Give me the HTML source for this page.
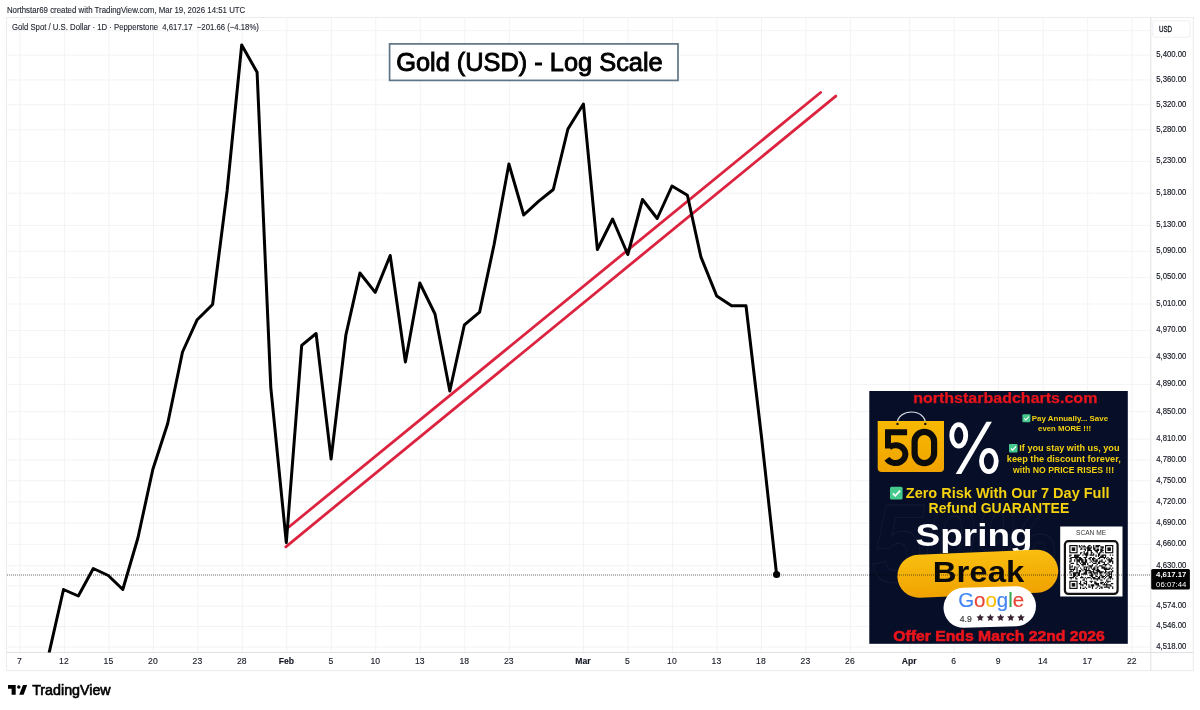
<!DOCTYPE html><html><head><meta charset="utf-8"><style>html,body{margin:0;padding:0;background:#fff;width:1200px;height:710px;overflow:hidden}svg{display:block}text{font-family:"Liberation Sans",sans-serif}</style></head><body>
<svg width="1200" height="710" viewBox="0 0 1200 710">
<rect width="1200" height="710" fill="#fff"/>
<text x="6.9" y="13.1" font-size="8.6" fill="#1e222d" stroke="#1e222d" stroke-width="0.12" textLength="238.4" lengthAdjust="spacingAndGlyphs">Northstar69 created with TradingView.com, Mar 19, 2026 14:51 UTC</text>
<line x1="6.5" y1="30.7" x2="1150.8" y2="30.7" stroke="#f3f3f4" stroke-width="1"/>
<line x1="6.5" y1="55.2" x2="1150.8" y2="55.2" stroke="#f3f3f4" stroke-width="1"/>
<line x1="6.5" y1="79.9" x2="1150.8" y2="79.9" stroke="#f3f3f4" stroke-width="1"/>
<line x1="6.5" y1="104.7" x2="1150.8" y2="104.7" stroke="#f3f3f4" stroke-width="1"/>
<line x1="6.5" y1="129.8" x2="1150.8" y2="129.8" stroke="#f3f3f4" stroke-width="1"/>
<line x1="6.5" y1="161.4" x2="1150.8" y2="161.4" stroke="#f3f3f4" stroke-width="1"/>
<line x1="6.5" y1="193.2" x2="1150.8" y2="193.2" stroke="#f3f3f4" stroke-width="1"/>
<line x1="6.5" y1="225.4" x2="1150.8" y2="225.4" stroke="#f3f3f4" stroke-width="1"/>
<line x1="6.5" y1="251.4" x2="1150.8" y2="251.4" stroke="#f3f3f4" stroke-width="1"/>
<line x1="6.5" y1="277.6" x2="1150.8" y2="277.6" stroke="#f3f3f4" stroke-width="1"/>
<line x1="6.5" y1="304.0" x2="1150.8" y2="304.0" stroke="#f3f3f4" stroke-width="1"/>
<line x1="6.5" y1="330.6" x2="1150.8" y2="330.6" stroke="#f3f3f4" stroke-width="1"/>
<line x1="6.5" y1="357.4" x2="1150.8" y2="357.4" stroke="#f3f3f4" stroke-width="1"/>
<line x1="6.5" y1="384.4" x2="1150.8" y2="384.4" stroke="#f3f3f4" stroke-width="1"/>
<line x1="6.5" y1="411.7" x2="1150.8" y2="411.7" stroke="#f3f3f4" stroke-width="1"/>
<line x1="6.5" y1="439.2" x2="1150.8" y2="439.2" stroke="#f3f3f4" stroke-width="1"/>
<line x1="6.5" y1="459.9" x2="1150.8" y2="459.9" stroke="#f3f3f4" stroke-width="1"/>
<line x1="6.5" y1="480.8" x2="1150.8" y2="480.8" stroke="#f3f3f4" stroke-width="1"/>
<line x1="6.5" y1="501.9" x2="1150.8" y2="501.9" stroke="#f3f3f4" stroke-width="1"/>
<line x1="6.5" y1="523.0" x2="1150.8" y2="523.0" stroke="#f3f3f4" stroke-width="1"/>
<line x1="6.5" y1="544.3" x2="1150.8" y2="544.3" stroke="#f3f3f4" stroke-width="1"/>
<line x1="6.5" y1="565.7" x2="1150.8" y2="565.7" stroke="#f3f3f4" stroke-width="1"/>
<line x1="6.5" y1="585.9" x2="1150.8" y2="585.9" stroke="#f3f3f4" stroke-width="1"/>
<line x1="6.5" y1="606.1" x2="1150.8" y2="606.1" stroke="#f3f3f4" stroke-width="1"/>
<line x1="6.5" y1="626.5" x2="1150.8" y2="626.5" stroke="#f3f3f4" stroke-width="1"/>
<line x1="6.5" y1="647.0" x2="1150.8" y2="647.0" stroke="#f3f3f4" stroke-width="1"/>
<line x1="19.9" y1="17.5" x2="19.9" y2="652.5" stroke="#f3f3f4" stroke-width="1"/>
<line x1="64.4" y1="17.5" x2="64.4" y2="652.5" stroke="#f3f3f4" stroke-width="1"/>
<line x1="108.9" y1="17.5" x2="108.9" y2="652.5" stroke="#f3f3f4" stroke-width="1"/>
<line x1="153.4" y1="17.5" x2="153.4" y2="652.5" stroke="#f3f3f4" stroke-width="1"/>
<line x1="197.9" y1="17.5" x2="197.9" y2="652.5" stroke="#f3f3f4" stroke-width="1"/>
<line x1="242.3" y1="17.5" x2="242.3" y2="652.5" stroke="#f3f3f4" stroke-width="1"/>
<line x1="286.8" y1="17.5" x2="286.8" y2="652.5" stroke="#f3f3f4" stroke-width="1"/>
<line x1="331.3" y1="17.5" x2="331.3" y2="652.5" stroke="#f3f3f4" stroke-width="1"/>
<line x1="375.8" y1="17.5" x2="375.8" y2="652.5" stroke="#f3f3f4" stroke-width="1"/>
<line x1="420.3" y1="17.5" x2="420.3" y2="652.5" stroke="#f3f3f4" stroke-width="1"/>
<line x1="464.8" y1="17.5" x2="464.8" y2="652.5" stroke="#f3f3f4" stroke-width="1"/>
<line x1="509.3" y1="17.5" x2="509.3" y2="652.5" stroke="#f3f3f4" stroke-width="1"/>
<line x1="583.4" y1="17.5" x2="583.4" y2="652.5" stroke="#f3f3f4" stroke-width="1"/>
<line x1="627.9" y1="17.5" x2="627.9" y2="652.5" stroke="#f3f3f4" stroke-width="1"/>
<line x1="672.4" y1="17.5" x2="672.4" y2="652.5" stroke="#f3f3f4" stroke-width="1"/>
<line x1="716.9" y1="17.5" x2="716.9" y2="652.5" stroke="#f3f3f4" stroke-width="1"/>
<line x1="761.4" y1="17.5" x2="761.4" y2="652.5" stroke="#f3f3f4" stroke-width="1"/>
<line x1="805.9" y1="17.5" x2="805.9" y2="652.5" stroke="#f3f3f4" stroke-width="1"/>
<line x1="850.4" y1="17.5" x2="850.4" y2="652.5" stroke="#f3f3f4" stroke-width="1"/>
<line x1="909.7" y1="17.5" x2="909.7" y2="652.5" stroke="#f3f3f4" stroke-width="1"/>
<line x1="954.2" y1="17.5" x2="954.2" y2="652.5" stroke="#f3f3f4" stroke-width="1"/>
<line x1="998.7" y1="17.5" x2="998.7" y2="652.5" stroke="#f3f3f4" stroke-width="1"/>
<line x1="1043.2" y1="17.5" x2="1043.2" y2="652.5" stroke="#f3f3f4" stroke-width="1"/>
<line x1="1087.7" y1="17.5" x2="1087.7" y2="652.5" stroke="#f3f3f4" stroke-width="1"/>
<line x1="1132.2" y1="17.5" x2="1132.2" y2="652.5" stroke="#f3f3f4" stroke-width="1"/>
<rect x="6.5" y="17.5" width="1186.8" height="653.1" fill="none" stroke="#ececee" stroke-width="1"/>
<line x1="1150.8" y1="17.5" x2="1150.8" y2="670.6" stroke="#e0e1e4" stroke-width="1"/>
<line x1="6.5" y1="652.5" x2="1193.3" y2="652.5" stroke="#e0e1e4" stroke-width="1"/>
<text x="11.9" y="30.4" font-size="8.9" fill="#1e222d" stroke="#1e222d" stroke-width="0.12" textLength="247" lengthAdjust="spacingAndGlyphs" xml:space="preserve">Gold Spot / U.S. Dollar · 1D · Pepperstone  4,617.17  −201.66 (−4.18%)</text>
<defs><clipPath id="cp"><rect x="6.5" y="17.5" width="1144.3" height="635.0"/></clipPath></defs>
<rect x="389.6" y="43.9" width="288.4" height="36.5" fill="#fff" stroke="#5f7585" stroke-width="1.7"/>
<text x="396.2" y="70.8" font-size="25.5" fill="#000" stroke="#000" stroke-width="0.9" textLength="266.5" lengthAdjust="spacingAndGlyphs">Gold (USD) - Log Scale</text>
<g clip-path="url(#cp)">
<line x1="288.9" y1="527" x2="820.6" y2="92.5" stroke="#dc2440" stroke-width="2.8" stroke-linecap="round"/>
<line x1="285.8" y1="546.8" x2="835.8" y2="96.1" stroke="#dc2440" stroke-width="2.8" stroke-linecap="round"/>
<polyline points="48.4,656 63.5,589.5 78.3,596 93.3,568.5 108.3,575.5 122.8,589.5 137.9,538 152.8,469.5 167.7,423.5 182.5,352 197.2,319.7 212.6,304.5 227.1,191 241.7,45 257.1,72.3 270.8,387.6 286.3,542.6 301.7,345.4 316.1,333.5 331.1,459 345.9,334.8 359.9,273 375.2,292.4 390.2,255.5 405.4,362 419.8,283 435,314 449.8,391 464.4,324.8 479.6,312.1 494,245 508.9,164 523.7,215 538.5,201.3 553.3,189.5 567.9,129 583.4,104 597.4,249.5 612.6,219 627.8,254.5 642.5,199.5 657.2,218.5 672,186 687.4,195.2 700.9,256.9 716.7,296 731.6,305.8 746,305.8 761.5,437 776.6,574.5" fill="none" stroke="#000" stroke-width="3.0" stroke-linejoin="round" stroke-linecap="round"/>
</g>
<circle cx="776.6" cy="574.5" r="3.6" fill="#000"/>
<g id="banner">
<rect x="869.3" y="391" width="258.5" height="252.8" fill="#070e28"/>
<text x="872" y="582" font-size="112" font-style="italic" font-weight="bold" fill="none" stroke="#ffffff" stroke-opacity="0.055" stroke-width="0.8" textLength="185" lengthAdjust="spacingAndGlyphs">50%</text>
<text x="913.2" y="403.4" font-size="13.8" font-weight="bold" fill="#e8141c" stroke="#e8141c" stroke-width="0.25" textLength="184.2" lengthAdjust="spacingAndGlyphs">northstarbadcharts.com</text>
<defs><linearGradient id="bag" x1="0" y1="0" x2="0" y2="1"><stop offset="0" stop-color="#f7b900"/><stop offset="1" stop-color="#f0a300"/></linearGradient><linearGradient id="pill" x1="0" y1="0" x2="0" y2="1"><stop offset="0" stop-color="#f9be10"/><stop offset="1" stop-color="#f0a200"/></linearGradient></defs>
<path d="M897.1,424 C897.5,408 925.5,408 925.5,424" fill="none" stroke="#d8dce6" stroke-width="1.2"/>
<path d="M877.7,421 H944 V468 Q944,472 940,472 H881.7 Q877.7,472 877.7,468 Z" fill="url(#bag)"/>
<circle cx="897.5" cy="423.9" r="1.2" fill="#111"/><circle cx="925.3" cy="423.9" r="1.2" fill="#111"/>
<path d="M885,432.2 H907.1 M888,429.3 V448.5 M889.3,447.2 A9.9,8.9 0 1 1 887.0,458.8" fill="none" stroke="#0c0c0c" stroke-width="6" stroke-linecap="butt"/>
<rect x="914.6" y="431.9" width="19.5" height="31.2" rx="9.75" ry="9.75" fill="none" stroke="#0c0c0c" stroke-width="6.2"/>
<ellipse cx="958.75" cy="435.4" rx="7.0" ry="10.7" fill="none" stroke="#fff" stroke-width="4.8"/>
<ellipse cx="988.85" cy="461.1" rx="7.4" ry="10.6" fill="none" stroke="#fff" stroke-width="4.8"/>
<path d="M986.4,421.8 H991.9 L961.2,474.1 H955.7 Z" fill="#fff"/>
<rect x="1022.4" y="414.2" width="8" height="8" rx="0.96" fill="#46c98c"/><path d="M1024.2,418.4 L1025.8,420.0 L1028.8,416.6" fill="none" stroke="#fff" stroke-width="1.04"/>
<text x="1031.8" y="420.9" font-size="7.8" font-weight="bold" fill="#f5d20f" textLength="76.3" lengthAdjust="spacingAndGlyphs">Pay Annually... Save</text>
<text x="1038.1" y="430.8" font-size="7.8" font-weight="bold" fill="#f5d20f" textLength="53" lengthAdjust="spacingAndGlyphs">even MORE !!!</text>
<rect x="1009" y="443.9" width="8.6" height="8.6" rx="1.03" fill="#46c98c"/><path d="M1010.9,448.4 L1012.6,450.1 L1015.9,446.5" fill="none" stroke="#fff" stroke-width="1.12"/>
<text x="1019.3" y="451.3" font-size="8.3" font-weight="bold" fill="#f5d20f" textLength="100.2" lengthAdjust="spacingAndGlyphs">If you stay with us, you</text>
<text x="1006.8" y="462.4" font-size="8.3" font-weight="bold" fill="#f5d20f" textLength="114" lengthAdjust="spacingAndGlyphs">keep the discount forever,</text>
<text x="1013" y="472.7" font-size="8.3" font-weight="bold" fill="#f5d20f" textLength="101.1" lengthAdjust="spacingAndGlyphs">with NO PRICE RISES !!!</text>
<rect x="890" y="486.8" width="12.6" height="12.6" rx="1.51" fill="#46c98c"/><path d="M892.8,493.4 L895.3,495.9 L900.1,490.6" fill="none" stroke="#fff" stroke-width="1.64"/>
<text x="905.8" y="497.8" font-size="14" font-weight="bold" fill="#f5d20f" textLength="203.7" lengthAdjust="spacingAndGlyphs">Zero Risk With Our 7 Day Full</text>
<text x="928.6" y="513.2" font-size="14" font-weight="bold" fill="#f5d20f" textLength="140.7" lengthAdjust="spacingAndGlyphs">Refund GUARANTEE</text>
<text x="915.6" y="546.2" font-size="32" font-weight="bold" fill="#fff" textLength="117" lengthAdjust="spacingAndGlyphs">Spring</text>
<g transform="rotate(-2.4 977.7 573.5)"><rect x="897.3" y="552.2" width="161" height="43" rx="21.5" fill="url(#pill)"/></g>
<text x="932.8" y="581.7" font-size="29.5" font-weight="bold" fill="#0a0a0a" textLength="91.5" lengthAdjust="spacingAndGlyphs">Break</text>
<g transform="rotate(-1.8 990 607)"><rect x="943.5" y="587" width="92.5" height="40" rx="20" fill="#fff"/></g>
<text x="958.2" y="607.3" font-size="20" fill="#4285f4" stroke-width="0.15" textLength="66" lengthAdjust="spacingAndGlyphs"><tspan fill="#4285f4" stroke="#4285f4">G</tspan><tspan fill="#ea4335" stroke="#ea4335">o</tspan><tspan fill="#fbbc05" stroke="#fbbc05">o</tspan><tspan fill="#4285f4" stroke="#4285f4">g</tspan><tspan fill="#34a853" stroke="#34a853">l</tspan><tspan fill="#ea4335" stroke="#ea4335">e</tspan></text>
<text x="959.7" y="621.8" font-size="9" fill="#3a3a3a" stroke="#3a3a3a" stroke-width="0.2" textLength="12" lengthAdjust="spacingAndGlyphs">4.9</text>
<polygon points="980.20,613.90 981.35,616.22 983.91,616.59 982.05,618.40 982.49,620.96 980.20,619.75 977.91,620.96 978.35,618.40 976.49,616.59 979.05,616.22" fill="#3a2233"/>
<polygon points="990.40,613.90 991.55,616.22 994.11,616.59 992.25,618.40 992.69,620.96 990.40,619.75 988.11,620.96 988.55,618.40 986.69,616.59 989.25,616.22" fill="#3a2233"/>
<polygon points="1000.60,613.90 1001.75,616.22 1004.31,616.59 1002.45,618.40 1002.89,620.96 1000.60,619.75 998.31,620.96 998.75,618.40 996.89,616.59 999.45,616.22" fill="#3a2233"/>
<polygon points="1010.80,613.90 1011.95,616.22 1014.51,616.59 1012.65,618.40 1013.09,620.96 1010.80,619.75 1008.51,620.96 1008.95,618.40 1007.09,616.59 1009.65,616.22" fill="#3a2233"/>
<polygon points="1021.00,613.90 1022.15,616.22 1024.71,616.59 1022.85,618.40 1023.29,620.96 1021.00,619.75 1018.71,620.96 1019.15,618.40 1017.29,616.59 1019.85,616.22" fill="#3a2233"/>
<text x="893.2" y="640.8" font-size="15" font-weight="bold" fill="#e8141c" stroke="#e8141c" stroke-width="0.6" textLength="211.7" lengthAdjust="spacingAndGlyphs">Offer Ends March 22nd 2026</text>
<rect x="1060.2" y="526.5" width="62.3" height="70" fill="#fff"/>
<text x="1076" y="535.3" font-size="6.6" fill="#333" textLength="30.1" lengthAdjust="spacingAndGlyphs">SCAN ME</text>
<rect x="1064.9" y="541.2" width="52.7" height="52.7" rx="3.5" fill="none" stroke="#111" stroke-width="2.2"/>
<path d="M1069.30 554.51h1.19v1.19h-1.19zM1069.30 555.70h1.19v1.19h-1.19zM1069.30 558.08h1.19v1.19h-1.19zM1069.30 560.46h1.19v1.19h-1.19zM1069.30 561.65h1.19v1.19h-1.19zM1069.30 564.03h1.19v1.19h-1.19zM1069.30 565.22h1.19v1.19h-1.19zM1069.30 566.41h1.19v1.19h-1.19zM1069.30 567.59h1.19v1.19h-1.19zM1069.30 568.78h1.19v1.19h-1.19zM1069.30 571.16h1.19v1.19h-1.19zM1069.30 572.35h1.19v1.19h-1.19zM1069.30 577.11h1.19v1.19h-1.19zM1070.49 554.51h1.19v1.19h-1.19zM1070.49 556.89h1.19v1.19h-1.19zM1070.49 558.08h1.19v1.19h-1.19zM1070.49 559.27h1.19v1.19h-1.19zM1070.49 560.46h1.19v1.19h-1.19zM1070.49 562.84h1.19v1.19h-1.19zM1070.49 566.41h1.19v1.19h-1.19zM1070.49 568.78h1.19v1.19h-1.19zM1070.49 569.97h1.19v1.19h-1.19zM1070.49 571.16h1.19v1.19h-1.19zM1070.49 573.54h1.19v1.19h-1.19zM1070.49 574.73h1.19v1.19h-1.19zM1070.49 577.11h1.19v1.19h-1.19zM1070.49 578.30h1.19v1.19h-1.19zM1071.68 556.89h1.19v1.19h-1.19zM1071.68 562.84h1.19v1.19h-1.19zM1071.68 565.22h1.19v1.19h-1.19zM1071.68 566.41h1.19v1.19h-1.19zM1071.68 568.78h1.19v1.19h-1.19zM1071.68 571.16h1.19v1.19h-1.19zM1071.68 577.11h1.19v1.19h-1.19zM1072.87 556.89h1.19v1.19h-1.19zM1072.87 562.84h1.19v1.19h-1.19zM1072.87 568.78h1.19v1.19h-1.19zM1072.87 569.97h1.19v1.19h-1.19zM1072.87 572.35h1.19v1.19h-1.19zM1072.87 573.54h1.19v1.19h-1.19zM1072.87 574.73h1.19v1.19h-1.19zM1072.87 575.92h1.19v1.19h-1.19zM1072.87 577.11h1.19v1.19h-1.19zM1074.06 554.51h1.19v1.19h-1.19zM1074.06 555.70h1.19v1.19h-1.19zM1074.06 556.89h1.19v1.19h-1.19zM1074.06 559.27h1.19v1.19h-1.19zM1074.06 560.46h1.19v1.19h-1.19zM1074.06 566.41h1.19v1.19h-1.19zM1074.06 567.59h1.19v1.19h-1.19zM1074.06 568.78h1.19v1.19h-1.19zM1074.06 572.35h1.19v1.19h-1.19zM1074.06 573.54h1.19v1.19h-1.19zM1074.06 574.73h1.19v1.19h-1.19zM1074.06 575.92h1.19v1.19h-1.19zM1075.25 554.51h1.19v1.19h-1.19zM1075.25 555.70h1.19v1.19h-1.19zM1075.25 556.89h1.19v1.19h-1.19zM1075.25 558.08h1.19v1.19h-1.19zM1075.25 566.41h1.19v1.19h-1.19zM1075.25 572.35h1.19v1.19h-1.19zM1075.25 573.54h1.19v1.19h-1.19zM1075.25 574.73h1.19v1.19h-1.19zM1075.25 577.11h1.19v1.19h-1.19zM1075.25 578.30h1.19v1.19h-1.19zM1076.44 554.51h1.19v1.19h-1.19zM1076.44 555.70h1.19v1.19h-1.19zM1076.44 556.89h1.19v1.19h-1.19zM1076.44 558.08h1.19v1.19h-1.19zM1076.44 559.27h1.19v1.19h-1.19zM1076.44 560.46h1.19v1.19h-1.19zM1076.44 561.65h1.19v1.19h-1.19zM1076.44 562.84h1.19v1.19h-1.19zM1076.44 564.03h1.19v1.19h-1.19zM1076.44 567.59h1.19v1.19h-1.19zM1076.44 568.78h1.19v1.19h-1.19zM1076.44 569.97h1.19v1.19h-1.19zM1076.44 571.16h1.19v1.19h-1.19zM1076.44 572.35h1.19v1.19h-1.19zM1076.44 575.92h1.19v1.19h-1.19zM1076.44 578.30h1.19v1.19h-1.19zM1077.62 554.51h1.19v1.19h-1.19zM1077.62 555.70h1.19v1.19h-1.19zM1077.62 556.89h1.19v1.19h-1.19zM1077.62 559.27h1.19v1.19h-1.19zM1077.62 560.46h1.19v1.19h-1.19zM1077.62 564.03h1.19v1.19h-1.19zM1077.62 566.41h1.19v1.19h-1.19zM1077.62 572.35h1.19v1.19h-1.19zM1077.62 573.54h1.19v1.19h-1.19zM1077.62 574.73h1.19v1.19h-1.19zM1078.81 545.00h1.19v1.19h-1.19zM1078.81 546.19h1.19v1.19h-1.19zM1078.81 554.51h1.19v1.19h-1.19zM1078.81 556.89h1.19v1.19h-1.19zM1078.81 558.08h1.19v1.19h-1.19zM1078.81 559.27h1.19v1.19h-1.19zM1078.81 560.46h1.19v1.19h-1.19zM1078.81 561.65h1.19v1.19h-1.19zM1078.81 565.22h1.19v1.19h-1.19zM1078.81 569.97h1.19v1.19h-1.19zM1078.81 571.16h1.19v1.19h-1.19zM1078.81 572.35h1.19v1.19h-1.19zM1078.81 573.54h1.19v1.19h-1.19zM1078.81 574.73h1.19v1.19h-1.19zM1078.81 583.05h1.19v1.19h-1.19zM1080.00 546.19h1.19v1.19h-1.19zM1080.00 548.57h1.19v1.19h-1.19zM1080.00 552.14h1.19v1.19h-1.19zM1080.00 553.32h1.19v1.19h-1.19zM1080.00 556.89h1.19v1.19h-1.19zM1080.00 558.08h1.19v1.19h-1.19zM1080.00 559.27h1.19v1.19h-1.19zM1080.00 562.84h1.19v1.19h-1.19zM1080.00 567.59h1.19v1.19h-1.19zM1080.00 569.97h1.19v1.19h-1.19zM1080.00 571.16h1.19v1.19h-1.19zM1080.00 577.11h1.19v1.19h-1.19zM1080.00 580.68h1.19v1.19h-1.19zM1080.00 581.86h1.19v1.19h-1.19zM1080.00 583.05h1.19v1.19h-1.19zM1080.00 584.24h1.19v1.19h-1.19zM1080.00 586.62h1.19v1.19h-1.19zM1080.00 587.81h1.19v1.19h-1.19zM1081.19 545.00h1.19v1.19h-1.19zM1081.19 547.38h1.19v1.19h-1.19zM1081.19 548.57h1.19v1.19h-1.19zM1081.19 552.14h1.19v1.19h-1.19zM1081.19 558.08h1.19v1.19h-1.19zM1081.19 559.27h1.19v1.19h-1.19zM1081.19 560.46h1.19v1.19h-1.19zM1081.19 561.65h1.19v1.19h-1.19zM1081.19 564.03h1.19v1.19h-1.19zM1081.19 568.78h1.19v1.19h-1.19zM1081.19 573.54h1.19v1.19h-1.19zM1081.19 575.92h1.19v1.19h-1.19zM1081.19 577.11h1.19v1.19h-1.19zM1081.19 584.24h1.19v1.19h-1.19zM1082.38 546.19h1.19v1.19h-1.19zM1082.38 554.51h1.19v1.19h-1.19zM1082.38 559.27h1.19v1.19h-1.19zM1082.38 560.46h1.19v1.19h-1.19zM1082.38 561.65h1.19v1.19h-1.19zM1082.38 562.84h1.19v1.19h-1.19zM1082.38 564.03h1.19v1.19h-1.19zM1082.38 565.22h1.19v1.19h-1.19zM1082.38 569.97h1.19v1.19h-1.19zM1082.38 573.54h1.19v1.19h-1.19zM1082.38 577.11h1.19v1.19h-1.19zM1082.38 579.49h1.19v1.19h-1.19zM1082.38 584.24h1.19v1.19h-1.19zM1082.38 585.43h1.19v1.19h-1.19zM1082.38 587.81h1.19v1.19h-1.19zM1083.57 545.00h1.19v1.19h-1.19zM1083.57 546.19h1.19v1.19h-1.19zM1083.57 548.57h1.19v1.19h-1.19zM1083.57 550.95h1.19v1.19h-1.19zM1083.57 552.14h1.19v1.19h-1.19zM1083.57 553.32h1.19v1.19h-1.19zM1083.57 556.89h1.19v1.19h-1.19zM1083.57 561.65h1.19v1.19h-1.19zM1083.57 562.84h1.19v1.19h-1.19zM1083.57 564.03h1.19v1.19h-1.19zM1083.57 566.41h1.19v1.19h-1.19zM1083.57 567.59h1.19v1.19h-1.19zM1083.57 568.78h1.19v1.19h-1.19zM1083.57 572.35h1.19v1.19h-1.19zM1083.57 573.54h1.19v1.19h-1.19zM1083.57 578.30h1.19v1.19h-1.19zM1083.57 579.49h1.19v1.19h-1.19zM1083.57 581.86h1.19v1.19h-1.19zM1083.57 583.05h1.19v1.19h-1.19zM1083.57 587.81h1.19v1.19h-1.19zM1084.76 546.19h1.19v1.19h-1.19zM1084.76 548.57h1.19v1.19h-1.19zM1084.76 549.76h1.19v1.19h-1.19zM1084.76 553.32h1.19v1.19h-1.19zM1084.76 554.51h1.19v1.19h-1.19zM1084.76 556.89h1.19v1.19h-1.19zM1084.76 558.08h1.19v1.19h-1.19zM1084.76 559.27h1.19v1.19h-1.19zM1084.76 560.46h1.19v1.19h-1.19zM1084.76 561.65h1.19v1.19h-1.19zM1084.76 562.84h1.19v1.19h-1.19zM1084.76 564.03h1.19v1.19h-1.19zM1084.76 566.41h1.19v1.19h-1.19zM1084.76 568.78h1.19v1.19h-1.19zM1084.76 569.97h1.19v1.19h-1.19zM1084.76 571.16h1.19v1.19h-1.19zM1084.76 572.35h1.19v1.19h-1.19zM1084.76 573.54h1.19v1.19h-1.19zM1084.76 577.11h1.19v1.19h-1.19zM1084.76 580.68h1.19v1.19h-1.19zM1084.76 583.05h1.19v1.19h-1.19zM1084.76 586.62h1.19v1.19h-1.19zM1085.95 547.38h1.19v1.19h-1.19zM1085.95 552.14h1.19v1.19h-1.19zM1085.95 553.32h1.19v1.19h-1.19zM1085.95 554.51h1.19v1.19h-1.19zM1085.95 555.70h1.19v1.19h-1.19zM1085.95 556.89h1.19v1.19h-1.19zM1085.95 559.27h1.19v1.19h-1.19zM1085.95 560.46h1.19v1.19h-1.19zM1085.95 561.65h1.19v1.19h-1.19zM1085.95 566.41h1.19v1.19h-1.19zM1085.95 567.59h1.19v1.19h-1.19zM1085.95 568.78h1.19v1.19h-1.19zM1085.95 569.97h1.19v1.19h-1.19zM1085.95 571.16h1.19v1.19h-1.19zM1085.95 572.35h1.19v1.19h-1.19zM1085.95 573.54h1.19v1.19h-1.19zM1085.95 578.30h1.19v1.19h-1.19zM1085.95 580.68h1.19v1.19h-1.19zM1085.95 581.86h1.19v1.19h-1.19zM1085.95 583.05h1.19v1.19h-1.19zM1085.95 584.24h1.19v1.19h-1.19zM1085.95 587.81h1.19v1.19h-1.19zM1087.14 546.19h1.19v1.19h-1.19zM1087.14 547.38h1.19v1.19h-1.19zM1087.14 548.57h1.19v1.19h-1.19zM1087.14 549.76h1.19v1.19h-1.19zM1087.14 550.95h1.19v1.19h-1.19zM1087.14 552.14h1.19v1.19h-1.19zM1087.14 553.32h1.19v1.19h-1.19zM1087.14 554.51h1.19v1.19h-1.19zM1087.14 562.84h1.19v1.19h-1.19zM1087.14 564.03h1.19v1.19h-1.19zM1087.14 566.41h1.19v1.19h-1.19zM1087.14 569.97h1.19v1.19h-1.19zM1087.14 577.11h1.19v1.19h-1.19zM1088.33 545.00h1.19v1.19h-1.19zM1088.33 546.19h1.19v1.19h-1.19zM1088.33 547.38h1.19v1.19h-1.19zM1088.33 548.57h1.19v1.19h-1.19zM1088.33 549.76h1.19v1.19h-1.19zM1088.33 558.08h1.19v1.19h-1.19zM1088.33 565.22h1.19v1.19h-1.19zM1088.33 567.59h1.19v1.19h-1.19zM1088.33 568.78h1.19v1.19h-1.19zM1088.33 569.97h1.19v1.19h-1.19zM1088.33 572.35h1.19v1.19h-1.19zM1088.33 577.11h1.19v1.19h-1.19zM1088.33 584.24h1.19v1.19h-1.19zM1088.33 585.43h1.19v1.19h-1.19zM1088.33 586.62h1.19v1.19h-1.19zM1089.52 545.00h1.19v1.19h-1.19zM1089.52 547.38h1.19v1.19h-1.19zM1089.52 548.57h1.19v1.19h-1.19zM1089.52 549.76h1.19v1.19h-1.19zM1089.52 554.51h1.19v1.19h-1.19zM1089.52 556.89h1.19v1.19h-1.19zM1089.52 558.08h1.19v1.19h-1.19zM1089.52 559.27h1.19v1.19h-1.19zM1089.52 561.65h1.19v1.19h-1.19zM1089.52 565.22h1.19v1.19h-1.19zM1089.52 566.41h1.19v1.19h-1.19zM1089.52 569.97h1.19v1.19h-1.19zM1089.52 571.16h1.19v1.19h-1.19zM1089.52 572.35h1.19v1.19h-1.19zM1089.52 574.73h1.19v1.19h-1.19zM1089.52 577.11h1.19v1.19h-1.19zM1089.52 580.68h1.19v1.19h-1.19zM1089.52 586.62h1.19v1.19h-1.19zM1090.71 546.19h1.19v1.19h-1.19zM1090.71 547.38h1.19v1.19h-1.19zM1090.71 549.76h1.19v1.19h-1.19zM1090.71 550.95h1.19v1.19h-1.19zM1090.71 552.14h1.19v1.19h-1.19zM1090.71 553.32h1.19v1.19h-1.19zM1090.71 554.51h1.19v1.19h-1.19zM1090.71 556.89h1.19v1.19h-1.19zM1090.71 560.46h1.19v1.19h-1.19zM1090.71 565.22h1.19v1.19h-1.19zM1090.71 566.41h1.19v1.19h-1.19zM1090.71 567.59h1.19v1.19h-1.19zM1090.71 571.16h1.19v1.19h-1.19zM1090.71 572.35h1.19v1.19h-1.19zM1090.71 573.54h1.19v1.19h-1.19zM1090.71 574.73h1.19v1.19h-1.19zM1090.71 575.92h1.19v1.19h-1.19zM1090.71 578.30h1.19v1.19h-1.19zM1090.71 580.68h1.19v1.19h-1.19zM1090.71 581.86h1.19v1.19h-1.19zM1090.71 584.24h1.19v1.19h-1.19zM1090.71 585.43h1.19v1.19h-1.19zM1091.89 552.14h1.19v1.19h-1.19zM1091.89 554.51h1.19v1.19h-1.19zM1091.89 558.08h1.19v1.19h-1.19zM1091.89 559.27h1.19v1.19h-1.19zM1091.89 561.65h1.19v1.19h-1.19zM1091.89 564.03h1.19v1.19h-1.19zM1091.89 565.22h1.19v1.19h-1.19zM1091.89 568.78h1.19v1.19h-1.19zM1091.89 571.16h1.19v1.19h-1.19zM1091.89 573.54h1.19v1.19h-1.19zM1091.89 574.73h1.19v1.19h-1.19zM1091.89 575.92h1.19v1.19h-1.19zM1091.89 577.11h1.19v1.19h-1.19zM1091.89 580.68h1.19v1.19h-1.19zM1091.89 584.24h1.19v1.19h-1.19zM1091.89 585.43h1.19v1.19h-1.19zM1091.89 586.62h1.19v1.19h-1.19zM1091.89 587.81h1.19v1.19h-1.19zM1093.08 545.00h1.19v1.19h-1.19zM1093.08 546.19h1.19v1.19h-1.19zM1093.08 547.38h1.19v1.19h-1.19zM1093.08 548.57h1.19v1.19h-1.19zM1093.08 553.32h1.19v1.19h-1.19zM1093.08 554.51h1.19v1.19h-1.19zM1093.08 556.89h1.19v1.19h-1.19zM1093.08 558.08h1.19v1.19h-1.19zM1093.08 559.27h1.19v1.19h-1.19zM1093.08 560.46h1.19v1.19h-1.19zM1093.08 562.84h1.19v1.19h-1.19zM1093.08 567.59h1.19v1.19h-1.19zM1093.08 568.78h1.19v1.19h-1.19zM1093.08 569.97h1.19v1.19h-1.19zM1093.08 571.16h1.19v1.19h-1.19zM1093.08 572.35h1.19v1.19h-1.19zM1093.08 577.11h1.19v1.19h-1.19zM1093.08 578.30h1.19v1.19h-1.19zM1093.08 584.24h1.19v1.19h-1.19zM1093.08 585.43h1.19v1.19h-1.19zM1094.27 547.38h1.19v1.19h-1.19zM1094.27 548.57h1.19v1.19h-1.19zM1094.27 549.76h1.19v1.19h-1.19zM1094.27 558.08h1.19v1.19h-1.19zM1094.27 560.46h1.19v1.19h-1.19zM1094.27 562.84h1.19v1.19h-1.19zM1094.27 566.41h1.19v1.19h-1.19zM1094.27 567.59h1.19v1.19h-1.19zM1094.27 568.78h1.19v1.19h-1.19zM1094.27 572.35h1.19v1.19h-1.19zM1094.27 573.54h1.19v1.19h-1.19zM1094.27 577.11h1.19v1.19h-1.19zM1094.27 578.30h1.19v1.19h-1.19zM1094.27 580.68h1.19v1.19h-1.19zM1094.27 581.86h1.19v1.19h-1.19zM1094.27 583.05h1.19v1.19h-1.19zM1095.46 545.00h1.19v1.19h-1.19zM1095.46 546.19h1.19v1.19h-1.19zM1095.46 549.76h1.19v1.19h-1.19zM1095.46 550.95h1.19v1.19h-1.19zM1095.46 554.51h1.19v1.19h-1.19zM1095.46 555.70h1.19v1.19h-1.19zM1095.46 559.27h1.19v1.19h-1.19zM1095.46 560.46h1.19v1.19h-1.19zM1095.46 561.65h1.19v1.19h-1.19zM1095.46 562.84h1.19v1.19h-1.19zM1095.46 565.22h1.19v1.19h-1.19zM1095.46 569.97h1.19v1.19h-1.19zM1095.46 572.35h1.19v1.19h-1.19zM1095.46 574.73h1.19v1.19h-1.19zM1095.46 575.92h1.19v1.19h-1.19zM1095.46 578.30h1.19v1.19h-1.19zM1095.46 581.86h1.19v1.19h-1.19zM1095.46 583.05h1.19v1.19h-1.19zM1095.46 584.24h1.19v1.19h-1.19zM1095.46 587.81h1.19v1.19h-1.19zM1096.65 545.00h1.19v1.19h-1.19zM1096.65 546.19h1.19v1.19h-1.19zM1096.65 548.57h1.19v1.19h-1.19zM1096.65 549.76h1.19v1.19h-1.19zM1096.65 550.95h1.19v1.19h-1.19zM1096.65 552.14h1.19v1.19h-1.19zM1096.65 559.27h1.19v1.19h-1.19zM1096.65 560.46h1.19v1.19h-1.19zM1096.65 564.03h1.19v1.19h-1.19zM1096.65 566.41h1.19v1.19h-1.19zM1096.65 567.59h1.19v1.19h-1.19zM1096.65 568.78h1.19v1.19h-1.19zM1096.65 569.97h1.19v1.19h-1.19zM1096.65 571.16h1.19v1.19h-1.19zM1096.65 572.35h1.19v1.19h-1.19zM1096.65 573.54h1.19v1.19h-1.19zM1096.65 575.92h1.19v1.19h-1.19zM1096.65 578.30h1.19v1.19h-1.19zM1096.65 579.49h1.19v1.19h-1.19zM1096.65 583.05h1.19v1.19h-1.19zM1096.65 584.24h1.19v1.19h-1.19zM1096.65 586.62h1.19v1.19h-1.19zM1097.84 545.00h1.19v1.19h-1.19zM1097.84 546.19h1.19v1.19h-1.19zM1097.84 548.57h1.19v1.19h-1.19zM1097.84 549.76h1.19v1.19h-1.19zM1097.84 553.32h1.19v1.19h-1.19zM1097.84 554.51h1.19v1.19h-1.19zM1097.84 555.70h1.19v1.19h-1.19zM1097.84 558.08h1.19v1.19h-1.19zM1097.84 561.65h1.19v1.19h-1.19zM1097.84 562.84h1.19v1.19h-1.19zM1097.84 566.41h1.19v1.19h-1.19zM1097.84 568.78h1.19v1.19h-1.19zM1097.84 569.97h1.19v1.19h-1.19zM1097.84 571.16h1.19v1.19h-1.19zM1097.84 577.11h1.19v1.19h-1.19zM1097.84 578.30h1.19v1.19h-1.19zM1097.84 583.05h1.19v1.19h-1.19zM1097.84 584.24h1.19v1.19h-1.19zM1097.84 585.43h1.19v1.19h-1.19zM1099.03 545.00h1.19v1.19h-1.19zM1099.03 552.14h1.19v1.19h-1.19zM1099.03 553.32h1.19v1.19h-1.19zM1099.03 554.51h1.19v1.19h-1.19zM1099.03 556.89h1.19v1.19h-1.19zM1099.03 558.08h1.19v1.19h-1.19zM1099.03 560.46h1.19v1.19h-1.19zM1099.03 561.65h1.19v1.19h-1.19zM1099.03 562.84h1.19v1.19h-1.19zM1099.03 565.22h1.19v1.19h-1.19zM1099.03 569.97h1.19v1.19h-1.19zM1099.03 571.16h1.19v1.19h-1.19zM1099.03 572.35h1.19v1.19h-1.19zM1099.03 575.92h1.19v1.19h-1.19zM1099.03 577.11h1.19v1.19h-1.19zM1099.03 578.30h1.19v1.19h-1.19zM1099.03 585.43h1.19v1.19h-1.19zM1099.03 587.81h1.19v1.19h-1.19zM1100.22 546.19h1.19v1.19h-1.19zM1100.22 548.57h1.19v1.19h-1.19zM1100.22 549.76h1.19v1.19h-1.19zM1100.22 550.95h1.19v1.19h-1.19zM1100.22 552.14h1.19v1.19h-1.19zM1100.22 555.70h1.19v1.19h-1.19zM1100.22 556.89h1.19v1.19h-1.19zM1100.22 560.46h1.19v1.19h-1.19zM1100.22 565.22h1.19v1.19h-1.19zM1100.22 571.16h1.19v1.19h-1.19zM1100.22 572.35h1.19v1.19h-1.19zM1100.22 573.54h1.19v1.19h-1.19zM1100.22 574.73h1.19v1.19h-1.19zM1100.22 579.49h1.19v1.19h-1.19zM1100.22 581.86h1.19v1.19h-1.19zM1100.22 583.05h1.19v1.19h-1.19zM1100.22 586.62h1.19v1.19h-1.19zM1101.41 546.19h1.19v1.19h-1.19zM1101.41 547.38h1.19v1.19h-1.19zM1101.41 548.57h1.19v1.19h-1.19zM1101.41 549.76h1.19v1.19h-1.19zM1101.41 550.95h1.19v1.19h-1.19zM1101.41 554.51h1.19v1.19h-1.19zM1101.41 555.70h1.19v1.19h-1.19zM1101.41 556.89h1.19v1.19h-1.19zM1101.41 559.27h1.19v1.19h-1.19zM1101.41 560.46h1.19v1.19h-1.19zM1101.41 561.65h1.19v1.19h-1.19zM1101.41 565.22h1.19v1.19h-1.19zM1101.41 566.41h1.19v1.19h-1.19zM1101.41 567.59h1.19v1.19h-1.19zM1101.41 571.16h1.19v1.19h-1.19zM1101.41 572.35h1.19v1.19h-1.19zM1101.41 574.73h1.19v1.19h-1.19zM1101.41 575.92h1.19v1.19h-1.19zM1101.41 577.11h1.19v1.19h-1.19zM1101.41 579.49h1.19v1.19h-1.19zM1101.41 581.86h1.19v1.19h-1.19zM1101.41 583.05h1.19v1.19h-1.19zM1101.41 586.62h1.19v1.19h-1.19zM1101.41 587.81h1.19v1.19h-1.19zM1102.60 546.19h1.19v1.19h-1.19zM1102.60 547.38h1.19v1.19h-1.19zM1102.60 549.76h1.19v1.19h-1.19zM1102.60 552.14h1.19v1.19h-1.19zM1102.60 554.51h1.19v1.19h-1.19zM1102.60 555.70h1.19v1.19h-1.19zM1102.60 556.89h1.19v1.19h-1.19zM1102.60 561.65h1.19v1.19h-1.19zM1102.60 564.03h1.19v1.19h-1.19zM1102.60 566.41h1.19v1.19h-1.19zM1102.60 567.59h1.19v1.19h-1.19zM1102.60 571.16h1.19v1.19h-1.19zM1102.60 575.92h1.19v1.19h-1.19zM1102.60 577.11h1.19v1.19h-1.19zM1102.60 581.86h1.19v1.19h-1.19zM1102.60 584.24h1.19v1.19h-1.19zM1103.79 554.51h1.19v1.19h-1.19zM1103.79 556.89h1.19v1.19h-1.19zM1103.79 558.08h1.19v1.19h-1.19zM1103.79 561.65h1.19v1.19h-1.19zM1103.79 562.84h1.19v1.19h-1.19zM1103.79 564.03h1.19v1.19h-1.19zM1103.79 566.41h1.19v1.19h-1.19zM1103.79 567.59h1.19v1.19h-1.19zM1103.79 568.78h1.19v1.19h-1.19zM1103.79 572.35h1.19v1.19h-1.19zM1103.79 575.92h1.19v1.19h-1.19zM1103.79 578.30h1.19v1.19h-1.19zM1103.79 583.05h1.19v1.19h-1.19zM1103.79 584.24h1.19v1.19h-1.19zM1103.79 586.62h1.19v1.19h-1.19zM1104.98 554.51h1.19v1.19h-1.19zM1104.98 555.70h1.19v1.19h-1.19zM1104.98 556.89h1.19v1.19h-1.19zM1104.98 560.46h1.19v1.19h-1.19zM1104.98 564.03h1.19v1.19h-1.19zM1104.98 565.22h1.19v1.19h-1.19zM1104.98 567.59h1.19v1.19h-1.19zM1104.98 568.78h1.19v1.19h-1.19zM1104.98 569.97h1.19v1.19h-1.19zM1104.98 571.16h1.19v1.19h-1.19zM1104.98 572.35h1.19v1.19h-1.19zM1104.98 574.73h1.19v1.19h-1.19zM1104.98 577.11h1.19v1.19h-1.19zM1104.98 581.86h1.19v1.19h-1.19zM1104.98 584.24h1.19v1.19h-1.19zM1104.98 586.62h1.19v1.19h-1.19zM1106.16 558.08h1.19v1.19h-1.19zM1106.16 564.03h1.19v1.19h-1.19zM1106.16 567.59h1.19v1.19h-1.19zM1106.16 568.78h1.19v1.19h-1.19zM1106.16 571.16h1.19v1.19h-1.19zM1106.16 573.54h1.19v1.19h-1.19zM1106.16 575.92h1.19v1.19h-1.19zM1106.16 579.49h1.19v1.19h-1.19zM1106.16 580.68h1.19v1.19h-1.19zM1106.16 583.05h1.19v1.19h-1.19zM1106.16 584.24h1.19v1.19h-1.19zM1106.16 585.43h1.19v1.19h-1.19zM1106.16 586.62h1.19v1.19h-1.19zM1107.35 556.89h1.19v1.19h-1.19zM1107.35 559.27h1.19v1.19h-1.19zM1107.35 562.84h1.19v1.19h-1.19zM1107.35 568.78h1.19v1.19h-1.19zM1107.35 572.35h1.19v1.19h-1.19zM1107.35 574.73h1.19v1.19h-1.19zM1107.35 578.30h1.19v1.19h-1.19zM1107.35 580.68h1.19v1.19h-1.19zM1107.35 581.86h1.19v1.19h-1.19zM1107.35 584.24h1.19v1.19h-1.19zM1107.35 586.62h1.19v1.19h-1.19zM1108.54 558.08h1.19v1.19h-1.19zM1108.54 559.27h1.19v1.19h-1.19zM1108.54 560.46h1.19v1.19h-1.19zM1108.54 561.65h1.19v1.19h-1.19zM1108.54 564.03h1.19v1.19h-1.19zM1108.54 567.59h1.19v1.19h-1.19zM1108.54 568.78h1.19v1.19h-1.19zM1108.54 571.16h1.19v1.19h-1.19zM1108.54 572.35h1.19v1.19h-1.19zM1108.54 573.54h1.19v1.19h-1.19zM1108.54 574.73h1.19v1.19h-1.19zM1108.54 575.92h1.19v1.19h-1.19zM1108.54 577.11h1.19v1.19h-1.19zM1108.54 580.68h1.19v1.19h-1.19zM1108.54 584.24h1.19v1.19h-1.19zM1108.54 586.62h1.19v1.19h-1.19zM1108.54 587.81h1.19v1.19h-1.19zM1109.73 554.51h1.19v1.19h-1.19zM1109.73 559.27h1.19v1.19h-1.19zM1109.73 560.46h1.19v1.19h-1.19zM1109.73 561.65h1.19v1.19h-1.19zM1109.73 565.22h1.19v1.19h-1.19zM1109.73 567.59h1.19v1.19h-1.19zM1109.73 571.16h1.19v1.19h-1.19zM1109.73 573.54h1.19v1.19h-1.19zM1109.73 575.92h1.19v1.19h-1.19zM1109.73 577.11h1.19v1.19h-1.19zM1109.73 578.30h1.19v1.19h-1.19zM1109.73 580.68h1.19v1.19h-1.19zM1109.73 584.24h1.19v1.19h-1.19zM1109.73 585.43h1.19v1.19h-1.19zM1110.92 556.89h1.19v1.19h-1.19zM1110.92 558.08h1.19v1.19h-1.19zM1110.92 559.27h1.19v1.19h-1.19zM1110.92 560.46h1.19v1.19h-1.19zM1110.92 565.22h1.19v1.19h-1.19zM1110.92 568.78h1.19v1.19h-1.19zM1110.92 571.16h1.19v1.19h-1.19zM1110.92 572.35h1.19v1.19h-1.19zM1110.92 573.54h1.19v1.19h-1.19zM1110.92 574.73h1.19v1.19h-1.19zM1110.92 575.92h1.19v1.19h-1.19zM1110.92 577.11h1.19v1.19h-1.19zM1110.92 583.05h1.19v1.19h-1.19zM1110.92 585.43h1.19v1.19h-1.19zM1112.11 554.51h1.19v1.19h-1.19zM1112.11 558.08h1.19v1.19h-1.19zM1112.11 560.46h1.19v1.19h-1.19zM1112.11 561.65h1.19v1.19h-1.19zM1112.11 562.84h1.19v1.19h-1.19zM1112.11 567.59h1.19v1.19h-1.19zM1112.11 569.97h1.19v1.19h-1.19zM1112.11 571.16h1.19v1.19h-1.19zM1112.11 578.30h1.19v1.19h-1.19zM1112.11 583.05h1.19v1.19h-1.19zM1112.11 586.62h1.19v1.19h-1.19zM1112.11 587.81h1.19v1.19h-1.19z" fill="#111"/>
<rect x="1069.30" y="545.00" width="8.32" height="8.32" fill="#111"/><rect x="1070.49" y="546.19" width="5.95" height="5.95" fill="#fff"/><rect x="1071.68" y="547.38" width="3.57" height="3.57" fill="#111"/><rect x="1104.98" y="545.00" width="8.32" height="8.32" fill="#111"/><rect x="1106.16" y="546.19" width="5.95" height="5.95" fill="#fff"/><rect x="1107.35" y="547.38" width="3.57" height="3.57" fill="#111"/><rect x="1069.30" y="580.68" width="8.32" height="8.32" fill="#111"/><rect x="1070.49" y="581.86" width="5.95" height="5.95" fill="#fff"/><rect x="1071.68" y="583.05" width="3.57" height="3.57" fill="#111"/>
</g>
<line x1="7" y1="575" x2="1150" y2="575" stroke="#9c9c9c" stroke-width="1.5" stroke-dasharray="1 1" style="mix-blend-mode:multiply"/>
<rect x="1152.8" y="20.8" width="37.2" height="16.5" rx="2" fill="#fff" stroke="#eef0f3" stroke-width="1"/>
<text x="1158.9" y="32.1" font-size="8.2" fill="#131722" stroke="#131722" stroke-width="0.3" textLength="13.2" lengthAdjust="spacingAndGlyphs">USD</text>
<text x="1156.2" y="57.0" font-size="8.6" fill="#131722" stroke="#131722" stroke-width="0.15" textLength="30.2" lengthAdjust="spacingAndGlyphs">5,400.00</text>
<text x="1156.2" y="81.7" font-size="8.6" fill="#131722" stroke="#131722" stroke-width="0.15" textLength="30.2" lengthAdjust="spacingAndGlyphs">5,360.00</text>
<text x="1156.2" y="106.5" font-size="8.6" fill="#131722" stroke="#131722" stroke-width="0.15" textLength="30.2" lengthAdjust="spacingAndGlyphs">5,320.00</text>
<text x="1156.2" y="131.6" font-size="8.6" fill="#131722" stroke="#131722" stroke-width="0.15" textLength="30.2" lengthAdjust="spacingAndGlyphs">5,280.00</text>
<text x="1156.2" y="163.2" font-size="8.6" fill="#131722" stroke="#131722" stroke-width="0.15" textLength="30.2" lengthAdjust="spacingAndGlyphs">5,230.00</text>
<text x="1156.2" y="195.0" font-size="8.6" fill="#131722" stroke="#131722" stroke-width="0.15" textLength="30.2" lengthAdjust="spacingAndGlyphs">5,180.00</text>
<text x="1156.2" y="227.2" font-size="8.6" fill="#131722" stroke="#131722" stroke-width="0.15" textLength="30.2" lengthAdjust="spacingAndGlyphs">5,130.00</text>
<text x="1156.2" y="253.2" font-size="8.6" fill="#131722" stroke="#131722" stroke-width="0.15" textLength="30.2" lengthAdjust="spacingAndGlyphs">5,090.00</text>
<text x="1156.2" y="279.4" font-size="8.6" fill="#131722" stroke="#131722" stroke-width="0.15" textLength="30.2" lengthAdjust="spacingAndGlyphs">5,050.00</text>
<text x="1156.2" y="305.8" font-size="8.6" fill="#131722" stroke="#131722" stroke-width="0.15" textLength="30.2" lengthAdjust="spacingAndGlyphs">5,010.00</text>
<text x="1156.2" y="332.4" font-size="8.6" fill="#131722" stroke="#131722" stroke-width="0.15" textLength="30.2" lengthAdjust="spacingAndGlyphs">4,970.00</text>
<text x="1156.2" y="359.2" font-size="8.6" fill="#131722" stroke="#131722" stroke-width="0.15" textLength="30.2" lengthAdjust="spacingAndGlyphs">4,930.00</text>
<text x="1156.2" y="386.2" font-size="8.6" fill="#131722" stroke="#131722" stroke-width="0.15" textLength="30.2" lengthAdjust="spacingAndGlyphs">4,890.00</text>
<text x="1156.2" y="413.5" font-size="8.6" fill="#131722" stroke="#131722" stroke-width="0.15" textLength="30.2" lengthAdjust="spacingAndGlyphs">4,850.00</text>
<text x="1156.2" y="441.0" font-size="8.6" fill="#131722" stroke="#131722" stroke-width="0.15" textLength="30.2" lengthAdjust="spacingAndGlyphs">4,810.00</text>
<text x="1156.2" y="461.7" font-size="8.6" fill="#131722" stroke="#131722" stroke-width="0.15" textLength="30.2" lengthAdjust="spacingAndGlyphs">4,780.00</text>
<text x="1156.2" y="482.6" font-size="8.6" fill="#131722" stroke="#131722" stroke-width="0.15" textLength="30.2" lengthAdjust="spacingAndGlyphs">4,750.00</text>
<text x="1156.2" y="503.7" font-size="8.6" fill="#131722" stroke="#131722" stroke-width="0.15" textLength="30.2" lengthAdjust="spacingAndGlyphs">4,720.00</text>
<text x="1156.2" y="524.8" font-size="8.6" fill="#131722" stroke="#131722" stroke-width="0.15" textLength="30.2" lengthAdjust="spacingAndGlyphs">4,690.00</text>
<text x="1156.2" y="546.1" font-size="8.6" fill="#131722" stroke="#131722" stroke-width="0.15" textLength="30.2" lengthAdjust="spacingAndGlyphs">4,660.00</text>
<text x="1156.2" y="567.5" font-size="8.6" fill="#131722" stroke="#131722" stroke-width="0.15" textLength="30.2" lengthAdjust="spacingAndGlyphs">4,630.00</text>
<text x="1156.2" y="607.9" font-size="8.6" fill="#131722" stroke="#131722" stroke-width="0.15" textLength="30.2" lengthAdjust="spacingAndGlyphs">4,574.00</text>
<text x="1156.2" y="628.3" font-size="8.6" fill="#131722" stroke="#131722" stroke-width="0.15" textLength="30.2" lengthAdjust="spacingAndGlyphs">4,546.00</text>
<text x="1156.2" y="648.8" font-size="8.6" fill="#131722" stroke="#131722" stroke-width="0.15" textLength="30.2" lengthAdjust="spacingAndGlyphs">4,518.00</text>
<rect x="1151.2" y="569.1" width="38.7" height="20.3" rx="1.5" fill="#000"/>
<text x="1156.1" y="577.4" font-size="7.9" font-weight="bold" fill="#fff" textLength="30.2" lengthAdjust="spacingAndGlyphs">4,617.17</text>
<text x="1156.1" y="586.6" font-size="7.9" fill="#fff" textLength="30.2" lengthAdjust="spacingAndGlyphs">06:07:44</text>
<text x="19.4" y="664.3" font-size="8.6" fill="#131722" stroke="#131722" stroke-width="0.12" text-anchor="middle">7</text>
<text x="63.9" y="664.3" font-size="8.6" fill="#131722" stroke="#131722" stroke-width="0.12" text-anchor="middle">12</text>
<text x="108.4" y="664.3" font-size="8.6" fill="#131722" stroke="#131722" stroke-width="0.12" text-anchor="middle">15</text>
<text x="152.9" y="664.3" font-size="8.6" fill="#131722" stroke="#131722" stroke-width="0.12" text-anchor="middle">20</text>
<text x="197.4" y="664.3" font-size="8.6" fill="#131722" stroke="#131722" stroke-width="0.12" text-anchor="middle">23</text>
<text x="241.8" y="664.3" font-size="8.6" fill="#131722" stroke="#131722" stroke-width="0.12" text-anchor="middle">28</text>
<text x="286.3" y="664.3" font-size="8.6" fill="#131722" stroke="#131722" stroke-width="0.12" text-anchor="middle" font-weight="bold">Feb</text>
<text x="330.8" y="664.3" font-size="8.6" fill="#131722" stroke="#131722" stroke-width="0.12" text-anchor="middle">5</text>
<text x="375.3" y="664.3" font-size="8.6" fill="#131722" stroke="#131722" stroke-width="0.12" text-anchor="middle">10</text>
<text x="419.8" y="664.3" font-size="8.6" fill="#131722" stroke="#131722" stroke-width="0.12" text-anchor="middle">13</text>
<text x="464.3" y="664.3" font-size="8.6" fill="#131722" stroke="#131722" stroke-width="0.12" text-anchor="middle">18</text>
<text x="508.8" y="664.3" font-size="8.6" fill="#131722" stroke="#131722" stroke-width="0.12" text-anchor="middle">23</text>
<text x="582.9" y="664.3" font-size="8.6" fill="#131722" stroke="#131722" stroke-width="0.12" text-anchor="middle" font-weight="bold">Mar</text>
<text x="627.4" y="664.3" font-size="8.6" fill="#131722" stroke="#131722" stroke-width="0.12" text-anchor="middle">5</text>
<text x="671.9" y="664.3" font-size="8.6" fill="#131722" stroke="#131722" stroke-width="0.12" text-anchor="middle">10</text>
<text x="716.4" y="664.3" font-size="8.6" fill="#131722" stroke="#131722" stroke-width="0.12" text-anchor="middle">13</text>
<text x="760.9" y="664.3" font-size="8.6" fill="#131722" stroke="#131722" stroke-width="0.12" text-anchor="middle">18</text>
<text x="805.4" y="664.3" font-size="8.6" fill="#131722" stroke="#131722" stroke-width="0.12" text-anchor="middle">23</text>
<text x="849.9" y="664.3" font-size="8.6" fill="#131722" stroke="#131722" stroke-width="0.12" text-anchor="middle">26</text>
<text x="909.2" y="664.3" font-size="8.6" fill="#131722" stroke="#131722" stroke-width="0.12" text-anchor="middle" font-weight="bold">Apr</text>
<text x="953.7" y="664.3" font-size="8.6" fill="#131722" stroke="#131722" stroke-width="0.12" text-anchor="middle">6</text>
<text x="998.2" y="664.3" font-size="8.6" fill="#131722" stroke="#131722" stroke-width="0.12" text-anchor="middle">9</text>
<text x="1042.7" y="664.3" font-size="8.6" fill="#131722" stroke="#131722" stroke-width="0.12" text-anchor="middle">14</text>
<text x="1087.2" y="664.3" font-size="8.6" fill="#131722" stroke="#131722" stroke-width="0.12" text-anchor="middle">17</text>
<text x="1131.7" y="664.3" font-size="8.6" fill="#131722" stroke="#131722" stroke-width="0.12" text-anchor="middle">22</text>
<path d="M8,684.9 H15.7 V694.8 H11.6 V688.7 H8 Z" fill="#000"/>
<circle cx="18.8" cy="686.9" r="1.75" fill="#000"/>
<path d="M23,684.9 H27.2 L23.6,694.8 H19.2 Z" fill="#000"/>
<text x="32.2" y="695" font-size="13.8" fill="#000" stroke="#000" stroke-width="0.6" textLength="78.5" lengthAdjust="spacingAndGlyphs">TradingView</text>
</svg></body></html>
